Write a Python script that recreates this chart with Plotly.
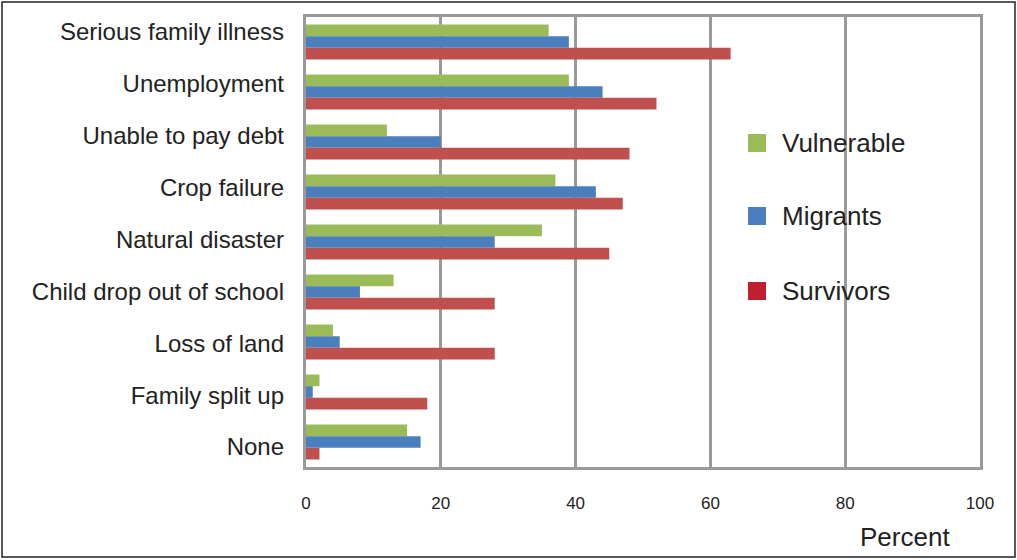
import plotly.graph_objects as go

categories = ["Serious family illness", "Unemployment", "Unable to pay debt", "Crop failure",
              "Natural disaster", "Child drop out of school", "Loss of land", "Family split up", "None"]
vulnerable = [36, 39, 12, 37, 35, 13, 4, 2, 15]
migrants = [39, 44, 20, 43, 28, 8, 5, 1, 17]
survivors = [63, 52, 48, 47, 45, 28, 28, 18, 2]
series_names = ["Vulnerable", "Migrants", "Survivors"]
bar_colors = ["#9BBB59", "#4A7EBD", "#C0504D"]
legend_colors = ["#9BBB59", "#4A7EBD", "#BE1E2D"]
x_ticks = [0, 20, 40, 60, 80, 100]

fig = go.Figure()
for name, vals, col in zip(series_names, [vulnerable, migrants, survivors], bar_colors):
    fig.add_trace(go.Bar(y=categories, x=vals, orientation="h", name=name,
                         marker=dict(color=col, line=dict(width=0)), showlegend=False))

# invisible helper trace so the label axis (yaxis2) is drawn
fig.add_trace(go.Scatter(y=list(range(len(categories))), x=[None] * len(categories), yaxis="y2",
                         mode="markers", marker=dict(opacity=0), showlegend=False, hoverinfo="skip"))

W, H = 1017, 560
L, R, T, B = 306, 37, 17, 93
pw, ph = W - L - R, H - T - B

def px(xp):
    return (xp - L) / pw

def py(yp):
    return 1 - (yp - T) / ph

# category labels sit on a slightly different spacing than the bars (as in the source)
lab_top, lab_bot = 32, 447
step = (lab_bot - lab_top) / (len(categories) - 1)
lab_range = [(T + ph - lab_top) / step, (T - lab_top) / step]

shapes = []
annotations = []
shapes.append(dict(type="rect", xref="paper", yref="paper", x0=px(2), x1=px(1015), y0=py(2), y1=py(557),
                   line=dict(color="#222222", width=1.5), fillcolor="rgba(0,0,0,0)", layer="below"))
for name, col, yc in zip(series_names, legend_colors, [143, 216, 291]):
    shapes.append(dict(type="rect", xref="paper", yref="paper", x0=px(748), x1=px(766),
                       y0=py(yc + 9), y1=py(yc - 9), fillcolor=col, line=dict(width=0)))
    annotations.append(dict(text=name, xref="paper", yref="paper", x=px(780), y=py(yc),
                            xanchor="left", yanchor="middle", showarrow=False,
                            font=dict(size=26, color="#222222", family="Liberation Sans, Arial")))
annotations.append(dict(text="Percent", xref="paper", yref="paper", x=px(905), y=py(537),
                        xanchor="center", yanchor="middle", showarrow=False,
                        font=dict(size=26, color="#222222", family="Liberation Sans, Arial")))

fig.update_layout(
    width=W, height=H,
    margin=dict(l=L, r=R, t=T, b=B),
    paper_bgcolor="white", plot_bgcolor="white",
    barmode="group", bargap=0.3, bargroupgap=0,
    shapes=shapes, annotations=annotations,
    xaxis=dict(range=[0, 100], tickvals=x_ticks, showgrid=True, gridcolor="#9A9A9A", gridwidth=2.5,
               showline=True, linecolor="#9A9A9A", linewidth=2.5, mirror=True, zeroline=False,
               ticks="", ticklabelstandoff=19,
               tickfont=dict(size=17, color="#222222", family="Liberation Sans Narrow, Arial Narrow, Liberation Sans")),
    yaxis=dict(autorange="reversed", showgrid=False, showline=True, linecolor="#9A9A9A", linewidth=2.5,
               mirror=True, ticks="", showticklabels=False),
    yaxis2=dict(overlaying="y", side="left", range=lab_range, autorange=False, tickmode="array",
                tickvals=list(range(len(categories))), ticktext=categories,
                showgrid=False, zeroline=False, showline=False, ticks="", ticklabelstandoff=21,
                tickfont=dict(size=24, color="#222222", family="Liberation Sans, Arial")),
    font=dict(family="Liberation Sans, Arial"),
)

fig.write_html("out.html", config={"displayModeBar": False},
               post_script="document.body.style.margin='0';document.body.style.overflow='hidden';")
